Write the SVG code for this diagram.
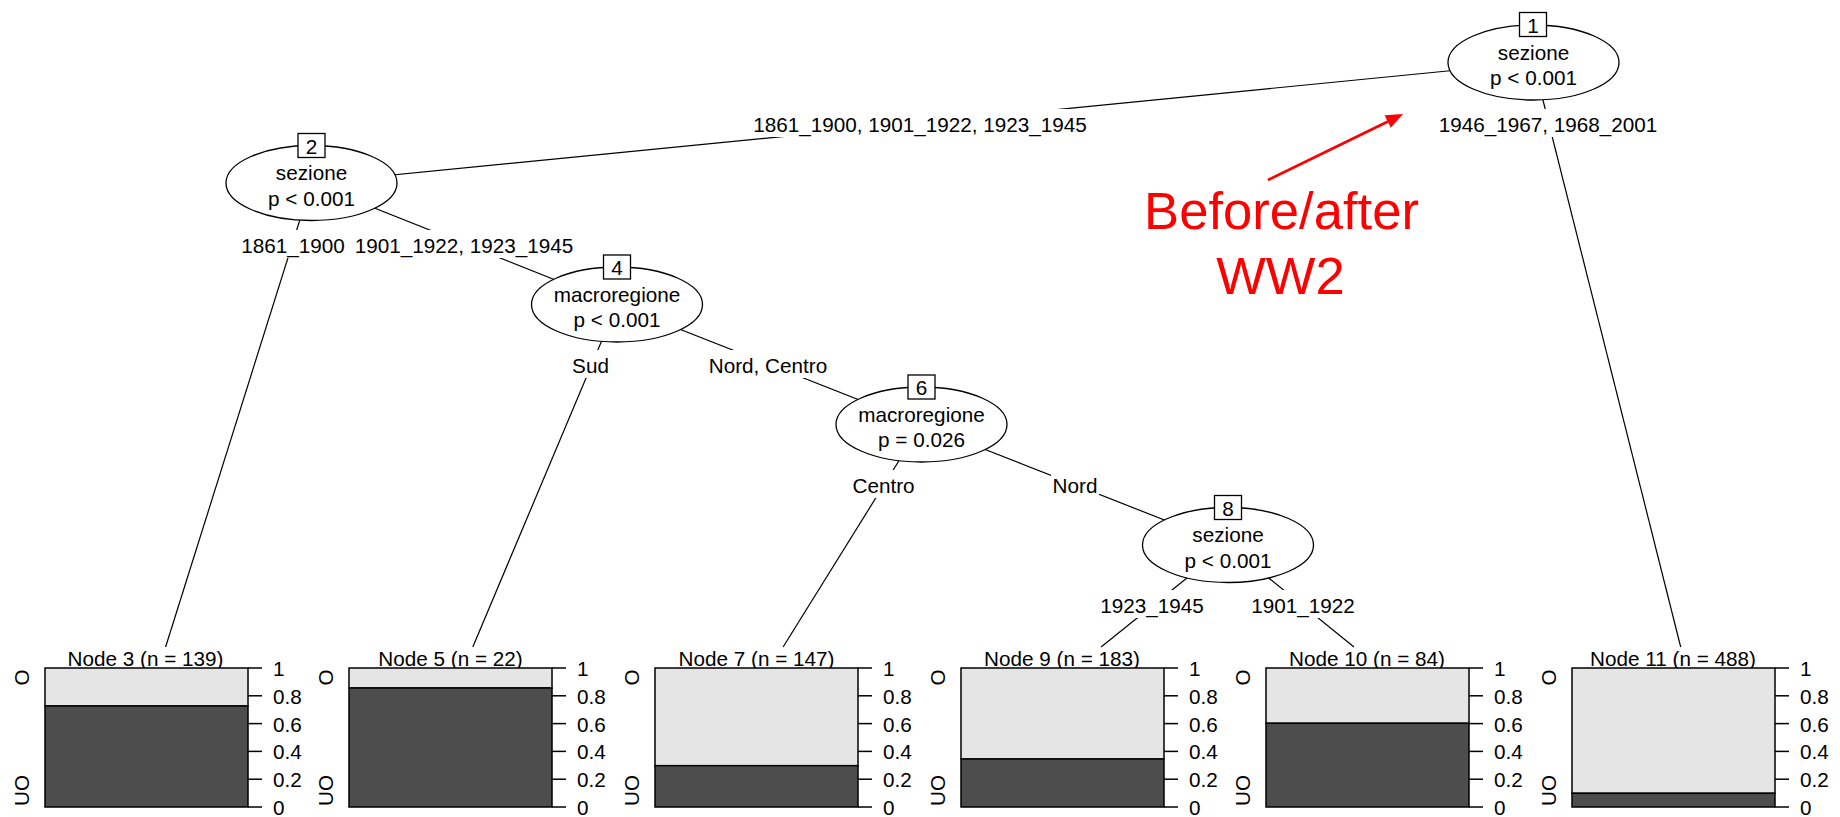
<svg xmlns="http://www.w3.org/2000/svg" width="1840" height="817" viewBox="0 0 1840 817">
<style>
text{font-family:"Liberation Sans",Arial,sans-serif;font-size:20.7px;fill:#000}
.mid{text-anchor:middle}
.edge{stroke:#000;stroke-width:1.2;fill:none}
.lblbg{fill:#fff;stroke:none}
.ell{fill:#fff;stroke:#000;stroke-width:1.3}
.idbox{fill:#fff;stroke:#000;stroke-width:1.3}
.light{fill:#e5e5e5;stroke:#000;stroke-width:1.5}
.dark{fill:#4d4d4d;stroke:#000;stroke-width:1.5}
.frame{fill:none;stroke:#000;stroke-width:1.5}
.tick{stroke:#000;stroke-width:1.5}
.red{fill:#ff0000;font-size:52.6px}
</style>
<defs>
<g id="ticks">
<line class="tick" x1="203" y1="668" x2="217" y2="668"/>
<line class="tick" x1="203" y1="695.8" x2="217" y2="695.8"/>
<line class="tick" x1="203" y1="723.6" x2="217" y2="723.6"/>
<line class="tick" x1="203" y1="751.4" x2="217" y2="751.4"/>
<line class="tick" x1="203" y1="779.2" x2="217" y2="779.2"/>
<line class="tick" x1="203" y1="807" x2="217" y2="807"/>
<text x="228" y="676">1</text>
<text x="228" y="703.8">0.8</text>
<text x="228" y="731.6">0.6</text>
<text x="228" y="759.4">0.4</text>
<text x="228" y="787.2">0.2</text>
<text x="228" y="815">0</text>
<text class="mid" transform="translate(-16,677.5) rotate(-90)">O</text>
<text class="mid" transform="translate(-16,790.5) rotate(-90)">UO</text>
</g>
</defs>
<rect width="1840" height="817" fill="#fff"/>

<g id="connectors">
<line class="edge" x1="1533.5" y1="62.5" x2="311.5" y2="183"/>
<line class="edge" x1="1533.5" y1="62.5" x2="1680.7" y2="647"/>
<line class="edge" x1="311.5" y1="183" x2="165.6" y2="647"/>
<line class="edge" x1="311.5" y1="183" x2="617" y2="304.5"/>
<line class="edge" x1="617" y1="304.5" x2="472.8" y2="647"/>
<line class="edge" x1="617" y1="304.5" x2="921.5" y2="424.5"/>
<line class="edge" x1="921.5" y1="424.5" x2="783.1" y2="647"/>
<line class="edge" x1="921.5" y1="424.5" x2="1228" y2="545"/>
<line class="edge" x1="1228" y1="545" x2="1101.1" y2="647"/>
<line class="edge" x1="1228" y1="545" x2="1354" y2="647"/>
<rect class="lblbg" x="749" y="109" width="342" height="28"/>
<text class="mid" x="920" y="132">1861_1900, 1901_1922, 1923_1945</text>
<rect class="lblbg" x="1435" y="109" width="226" height="28"/>
<text class="mid" x="1548" y="132">1946_1967, 1968_2001</text>
<rect class="lblbg" x="240" y="230" width="107" height="28"/>
<text class="mid" x="293" y="253">1861_1900</text>
<rect class="lblbg" x="365" y="230" width="199" height="28"/>
<text class="mid" x="464" y="253">1901_1922, 1923_1945</text>
<rect class="lblbg" x="570" y="350" width="41" height="28"/>
<text class="mid" x="590.5" y="373">Sud</text>
<rect class="lblbg" x="707" y="350" width="122" height="28"/>
<text class="mid" x="768" y="373">Nord, Centro</text>
<rect class="lblbg" x="851" y="470" width="65" height="28"/>
<text class="mid" x="883.5" y="493">Centro</text>
<rect class="lblbg" x="1051" y="470" width="48" height="28"/>
<text class="mid" x="1075" y="493">Nord</text>
<rect class="lblbg" x="1099" y="590" width="107" height="28"/>
<text class="mid" x="1152" y="613">1923_1945</text>
<rect class="lblbg" x="1249" y="590" width="107" height="28"/>
<text class="mid" x="1303" y="613">1901_1922</text>
</g>

<g id="node1">
<ellipse class="ell" cx="1533.5" cy="62.5" rx="85.5" ry="37.5"/>
<rect class="idbox" x="1519.5" y="12.5" width="27" height="24"/>
<text class="mid" x="1533" y="32.5">1</text>
<text class="mid" x="1533.5" y="59.5">sezione</text>
<text class="mid" x="1533.5" y="85">p &lt; 0.001</text>
</g>
<g id="node2">
<ellipse class="ell" cx="311.5" cy="183" rx="85.5" ry="37.5"/>
<rect class="idbox" x="298" y="133.5" width="27" height="24"/>
<text class="mid" x="311.5" y="153.5">2</text>
<text class="mid" x="311.5" y="180">sezione</text>
<text class="mid" x="311.5" y="205.5">p &lt; 0.001</text>
</g>
<g id="node4">
<ellipse class="ell" cx="617" cy="304.5" rx="85.5" ry="37.5"/>
<rect class="idbox" x="603.5" y="255" width="27" height="24"/>
<text class="mid" x="617" y="275">4</text>
<text class="mid" x="617" y="301.5">macroregione</text>
<text class="mid" x="617" y="327">p &lt; 0.001</text>
</g>
<g id="node6">
<ellipse class="ell" cx="921.5" cy="424.5" rx="85.5" ry="37.5"/>
<rect class="idbox" x="908" y="375" width="27" height="24"/>
<text class="mid" x="921.5" y="395">6</text>
<text class="mid" x="921.5" y="421.5">macroregione</text>
<text class="mid" x="921.5" y="447">p = 0.026</text>
</g>
<g id="node8">
<ellipse class="ell" cx="1228" cy="545" rx="85.5" ry="37.5"/>
<rect class="idbox" x="1214.5" y="495.5" width="27" height="24"/>
<text class="mid" x="1228" y="515.5">8</text>
<text class="mid" x="1228" y="542">sezione</text>
<text class="mid" x="1228" y="567.5">p &lt; 0.001</text>
</g>

<g id="node3">
<text class="mid" x="145.5" y="666">Node 3 (n = 139)</text>
<rect class="light" x="45" y="668" width="203" height="38"/>
<rect class="dark" x="45" y="706" width="203" height="101"/>
<use href="#ticks" transform="translate(45,0)"/>
</g>
<g id="node5">
<text class="mid" x="450.5" y="666">Node 5 (n = 22)</text>
<rect class="light" x="349" y="668" width="203" height="20"/>
<rect class="dark" x="349" y="688" width="203" height="119"/>
<use href="#ticks" transform="translate(349,0)"/>
</g>
<g id="node7">
<text class="mid" x="756.5" y="666">Node 7 (n = 147)</text>
<rect class="light" x="655" y="668" width="203" height="97.7"/>
<rect class="dark" x="655" y="765.7" width="203" height="41.3"/>
<use href="#ticks" transform="translate(655,0)"/>
</g>
<g id="node9">
<text class="mid" x="1062" y="666">Node 9 (n = 183)</text>
<rect class="light" x="961" y="668" width="203" height="91"/>
<rect class="dark" x="961" y="759" width="203" height="48"/>
<use href="#ticks" transform="translate(961,0)"/>
</g>
<g id="node10">
<text class="mid" x="1367" y="666">Node 10 (n = 84)</text>
<rect class="light" x="1266" y="668" width="203" height="55.3"/>
<rect class="dark" x="1266" y="723.3" width="203" height="83.7"/>
<use href="#ticks" transform="translate(1266,0)"/>
</g>
<g id="node11">
<text class="mid" x="1673" y="666">Node 11 (n = 488)</text>
<rect class="light" x="1572" y="668" width="203" height="125.3"/>
<rect class="dark" x="1572" y="793.3" width="203" height="13.7"/>
<use href="#ticks" transform="translate(1572,0)"/>
</g>

<g id="annotation">
<line x1="1268" y1="180" x2="1388" y2="121.5" stroke="#ff0000" stroke-width="2.8"/>
<polygon points="1403,114 1384.6,115.2 1390.8,127.8" fill="#ff0000"/>
<text class="mid red" x="1281.5" y="229.3">Before/after</text>
<text class="mid red" x="1280.5" y="294">WW2</text>
</g>
</svg>
